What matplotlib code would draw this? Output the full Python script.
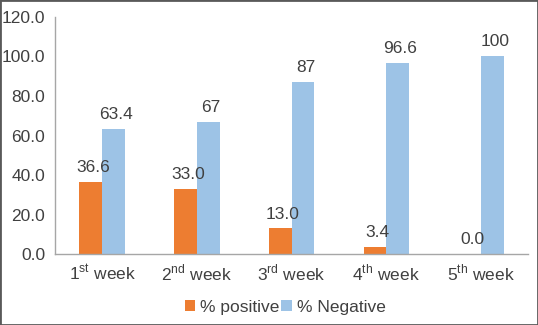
import matplotlib.pyplot as plt
import numpy as np

plt.rcParams["font.family"] = ["Liberation Sans", "DejaVu Sans"]
plt.rcParams["mathtext.fontset"] = "custom"
plt.rcParams["mathtext.rm"] = "Liberation Sans"

weeks = [r"1$^{\mathrm{st}}$ week", r"2$^{\mathrm{nd}}$ week", r"3$^{\mathrm{rd}}$ week",
         r"4$^{\mathrm{th}}$ week", r"5$^{\mathrm{th}}$ week"]
positive = [36.6, 33.0, 13.0, 3.4, 0.0]
negative = [63.4, 67, 87, 96.6, 100]
positive_labels = ["36.6", "33.0", "13.0", "3.4", "0.0"]
negative_labels = ["63.4", "67", "87", "96.6", "100"]

text_color = "#404040"
orange = "#ED7D31"
blue = "#9DC3E6"
fs = 12.5

fig = plt.figure(figsize=(5.38, 3.25), dpi=100)
ax = fig.add_axes([0.102, 0.218, 0.880, 0.730])

x = np.arange(len(weeks))
w = 0.24
b1 = ax.bar(x - w / 2, positive, w, color=orange, label="% positive")
b2 = ax.bar(x + w / 2, negative, w, color=blue, label="% Negative")

for bars, labels in [(b1, positive_labels), (b2, negative_labels)]:
    for bar, lab in zip(bars, labels):
        ax.annotate(lab, (bar.get_x() + bar.get_width() / 2, bar.get_height()),
                    xytext=(2, 5), textcoords="offset points", ha="center", va="bottom",
                    fontsize=fs, color=text_color)

ax.set_xlim(-0.5, len(weeks) - 0.5)
ax.set_ylim(0, 120)
ax.set_yticks(np.arange(0, 121, 20))
ax.set_yticklabels([f"{v:.1f}" for v in np.arange(0, 121, 20)])
ax.set_xticks(x)
ax.set_xticklabels(weeks)
ax.tick_params(length=0, labelsize=fs, labelcolor=text_color, pad=7)
ax.tick_params(axis="x", pad=6)
for s in ["top", "right"]:
    ax.spines[s].set_visible(False)
for s in ["left", "bottom"]:
    ax.spines[s].set_color("#A6A6A6")
    ax.spines[s].set_linewidth(1.0)

leg = fig.legend(loc="lower center", bbox_to_anchor=(0.53, 0.0), ncol=2, frameon=False,
                 fontsize=fs, handlelength=0.6, handleheight=0.6, handletextpad=0.3,
                 columnspacing=0.1, borderaxespad=0.2)
for t in leg.get_texts():
    t.set_color(text_color)

fig.patches.append(plt.Rectangle((0, 0), 1, 1, transform=fig.transFigure, fill=False,
                                 edgecolor="#595959", linewidth=2))

fig.savefig("out.png", dpi=100)
